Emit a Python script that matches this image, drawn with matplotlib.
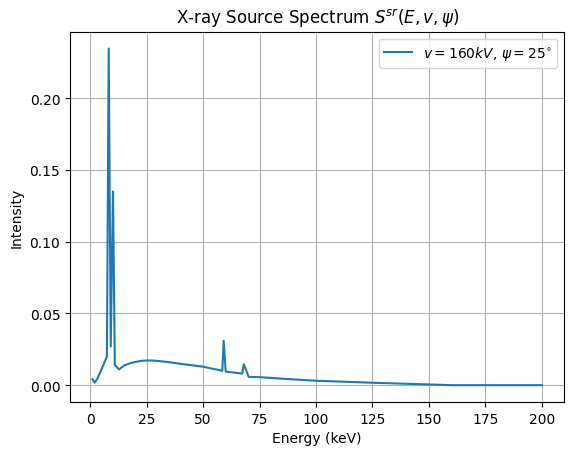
import numpy as np
import matplotlib.pyplot as plt

# Spectrum (keV, intensity)
energy = [1, 2, 3, 5, 7.4, 8.2, 9.1, 10.1, 10.9, 12.8, 15, 17.5, 20, 22.5,
          25, 27.5, 30, 35, 40, 45, 50, 55, 58.5, 59.1, 60.0, 67.3, 68.0,
          70.2, 75, 88, 100, 125, 150, 160, 175, 200]
intensity = [0.0042, 0.0018, 0.004, 0.011, 0.020, 0.2346, 0.027, 0.135,
             0.014, 0.011, 0.0137, 0.0152, 0.0162, 0.0169,
             0.0172, 0.0172, 0.0169, 0.0160, 0.0149, 0.0139, 0.0129,
             0.0112, 0.0100, 0.031, 0.0095, 0.0081, 0.0146,
             0.0058, 0.0056, 0.0042, 0.0031, 0.0017, 0.0005, 0.0,
             0.0, 0.0]

fig = plt.figure(figsize=(5.76, 4.56), dpi=100)
ax = fig.add_axes([0.1215, 0.1162, 0.8582, 0.8121])
ax.plot(energy, intensity, label=r'$v = 160kV$, $\psi = 25^{\circ}$')
ax.set_xlabel('Energy (keV)')
ax.set_ylabel('Intensity')
ax.set_title(r'X-ray Source Spectrum $S^{sr}(E, v, \psi)$')
ax.grid(True)
ax.legend(loc='upper right')
plt.savefig('out.png')
